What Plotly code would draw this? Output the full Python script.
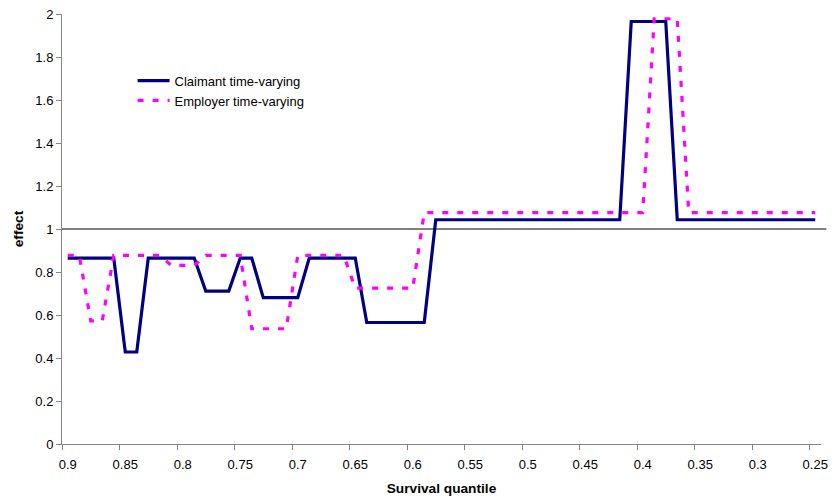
import plotly.graph_objects as go

# Survival quantiles (categories), running from 0.90 down to 0.25
quantiles = [
    0.90, 0.89, 0.88, 0.87, 0.86, 0.85, 0.84, 0.83, 0.82, 0.81,
    0.80, 0.79, 0.78, 0.77, 0.76, 0.75, 0.74, 0.73, 0.72, 0.71,
    0.70, 0.69, 0.68, 0.67, 0.66, 0.65, 0.64, 0.63, 0.62, 0.61,
    0.60, 0.59, 0.58, 0.57, 0.56, 0.55, 0.54, 0.53, 0.52, 0.51,
    0.50, 0.49, 0.48, 0.47, 0.46, 0.45, 0.44, 0.43, 0.42, 0.41,
    0.40, 0.39, 0.38, 0.37, 0.36, 0.35, 0.34, 0.33, 0.32, 0.31,
    0.30, 0.29, 0.28, 0.27, 0.26, 0.25,
]

claimant = [
    0.865, 0.865, 0.865, 0.865, 0.865, 0.428, 0.428, 0.865, 0.865, 0.865,
    0.865, 0.865, 0.711, 0.711, 0.711, 0.865, 0.865, 0.681, 0.681, 0.681,
    0.681, 0.865, 0.865, 0.865, 0.865, 0.865, 0.565, 0.565, 0.565, 0.565,
    0.565, 0.565, 1.043, 1.043, 1.043, 1.043, 1.043, 1.043, 1.043, 1.043,
    1.043, 1.043, 1.043, 1.043, 1.043, 1.043, 1.043, 1.043, 1.043, 1.965,
    1.965, 1.965, 1.965, 1.043, 1.043, 1.043, 1.043, 1.043, 1.043, 1.043,
    1.043, 1.043, 1.043, 1.043, 1.043, 1.043,
]

employer = [
    0.877, 0.877, 0.573, 0.573, 0.877, 0.877, 0.877, 0.877, 0.877, 0.831,
    0.831, 0.831, 0.877, 0.877, 0.877, 0.877, 0.536, 0.536, 0.536, 0.536,
    0.877, 0.877, 0.877, 0.877, 0.877, 0.725, 0.725, 0.725, 0.725, 0.725,
    0.725, 1.076, 1.076, 1.076, 1.076, 1.076, 1.076, 1.076, 1.076, 1.076,
    1.076, 1.076, 1.076, 1.076, 1.076, 1.076, 1.076, 1.076, 1.076, 1.076,
    1.076, 1.978, 1.978, 1.978, 1.076, 1.076, 1.076, 1.076, 1.076, 1.076,
    1.076, 1.076, 1.076, 1.076, 1.076, 1.076,
]

# Labelled categories and the category boundaries carrying the tick marks
label_vals = [0.90, 0.85, 0.80, 0.75, 0.70, 0.65, 0.60, 0.55, 0.50, 0.45, 0.40, 0.35, 0.30, 0.25]
label_text = ["0.9", "0.85", "0.8", "0.75", "0.7", "0.65", "0.6", "0.55", "0.5", "0.45", "0.4", "0.35", "0.3", "0.25"]
boundary_vals = [0.905, 0.855, 0.805, 0.755, 0.705, 0.655, 0.605, 0.555, 0.505, 0.455, 0.405, 0.355, 0.305, 0.255]

reference_level = 1.0

FONT = "Liberation Sans, Arial, sans-serif"
AXIS_GREY = "#868686"

fig = go.Figure()

fig.add_trace(go.Scatter(
    x=quantiles, y=claimant, mode="lines", name="Claimant time-varying",
    line=dict(color="#000080", width=3.2),
))
fig.add_trace(go.Scatter(
    x=quantiles, y=employer, mode="lines", name="Employer time-varying",
    line=dict(color="#FF00FF", width=3.2, dash="6px,9px"),
))

# Horizontal reference line at effect = 1
fig.add_shape(
    type="line", xref="paper", yref="y",
    x0=0, x1=1.007, y0=reference_level, y1=reference_level,
    line=dict(color="black", width=1), layer="below",
)

fig.update_layout(
    width=835, height=500,
    margin=dict(l=62, r=7, t=12, b=55),
    paper_bgcolor="white", plot_bgcolor="white",
    font=dict(family=FONT, size=13, color="black"),
    showlegend=True,
    legend=dict(
        x=0.093, xanchor="left", y=0.88, yanchor="top",
        bgcolor="rgba(0,0,0,0)", borderwidth=0,
        font=dict(family=FONT, size=13, color="black"),
        itemwidth=32, tracegroupgap=0,
    ),
    xaxis=dict(
        range=[0.905, 0.245],
        tickmode="array", tickvals=label_vals, ticktext=label_text,
        ticks="outside", ticklen=5, tickcolor="rgba(0,0,0,0)",
        ticklabelstandoff=3,
        showgrid=False, zeroline=False,
        showline=True, linecolor=AXIS_GREY, linewidth=1,
        tickfont=dict(family=FONT, size=13, color="black"),
        minor=dict(
            tickmode="array", tickvals=boundary_vals,
            ticks="outside", ticklen=5, tickcolor=AXIS_GREY, tickwidth=1,
            showgrid=False,
        ),
        title=dict(text="<b>Survival quantile</b>", font=dict(family=FONT, size=13.7), standoff=12),
    ),
    yaxis=dict(
        range=[0, 2], tickmode="linear", tick0=0, dtick=0.2,
        ticks="outside", ticklen=5, tickcolor=AXIS_GREY, tickwidth=1,
        showgrid=False, zeroline=False,
        showline=True, linecolor=AXIS_GREY, linewidth=1,
        tickfont=dict(family=FONT, size=13, color="black"),
        title=dict(text="<b>effect</b>", font=dict(family=FONT, size=13.7), standoff=8),
    ),
)

fig.write_html("out.html")
